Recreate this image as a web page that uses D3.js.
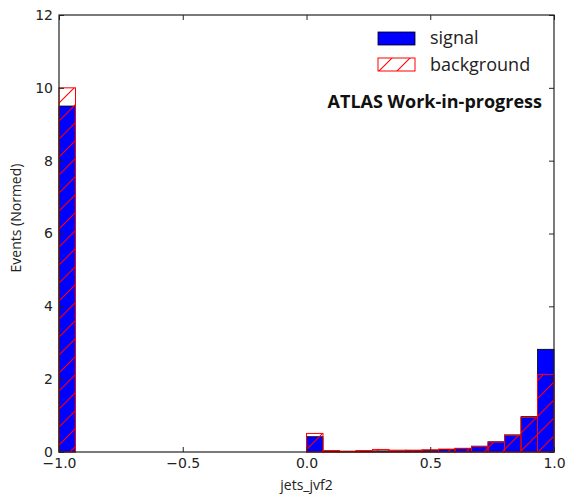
<!DOCTYPE html>
<head>
  <meta charset="utf-8">
  <script src="https://d3js.org/d3.v7.min.js"></script>
  <style>
    body { margin:0; background:#fff; }
    svg { display:block; }
    .tick text { font-family: "DejaVu Sans", sans-serif; font-size: 14px; fill: #222; }
  </style>
</head>

<body>
  <script>
    // histogram: 30 bins of width 1/15 between -1 and 1
    var xDomain = [-1, 1],
        yDomain = [0, 12],
        nBins = 30,
        xTicks = [-1, -0.5, 0, 0.5, 1],
        xTickLabels = ["\u22121.0", "\u22120.5", "0.0", "0.5", "1.0"],
        yTicks = [0, 2, 4, 6, 8, 10, 12];

    var signal = [9.5, 0, 0, 0, 0, 0, 0, 0, 0, 0, 0, 0, 0, 0, 0,
                  0.42, 0.02, 0.02, 0.02, 0.03, 0.03, 0.04, 0.05, 0.07, 0.10, 0.16, 0.28, 0.47, 0.97, 2.82];
    var background = [10.0, 0, 0, 0, 0, 0, 0, 0, 0, 0, 0, 0, 0, 0, 0,
                      0.51, 0.04, 0.02, 0.04, 0.07, 0.05, 0.05, 0.06, 0.08, 0.10, 0.15, 0.27, 0.45, 0.95, 2.13];

    var W = 576, H = 504,
        pl = 59, pr = 554, pt = 15, pb = 452;

    var svg = d3.select("body").append("svg").attr("width", W).attr("height", H),
        defs = svg.append("defs");

    // red hatch '/' like matplotlib
    var hatch = defs.append("pattern")
        .attr("id", "hatch")
        .attr("patternUnits", "userSpaceOnUse")
        .attr("width", 18).attr("height", 18);
    hatch.append("path")
        .attr("d", "M0,18 L18,0 M-4,4 L4,-4 M14,22 L22,14")
        .attr("stroke", "#ff0000").attr("stroke-width", 1.1);

    var x = d3.scaleLinear().domain(xDomain).range([pl, pr]);
    var y = d3.scaleLinear().domain(yDomain).range([pb, pt]);

    var binW = (xDomain[1] - xDomain[0]) / nBins;
    var bins = d3.range(nBins).map(function(i){ return xDomain[0] + i * binW; });

    var g = svg.append("g");

    g.selectAll("rect.sig").data(bins)
      .enter().append("rect")
        .attr("class", "sig")
        .attr("x", function(d){ return x(d); })
        .attr("width", function(d){ return x(d + binW) - x(d); })
        .attr("y", function(d, i){ return y(signal[i]); })
        .attr("height", function(d, i){ return y(0) - y(signal[i]); })
        .attr("fill", "#0000ff")
        .attr("stroke", "#000")
        .attr("stroke-width", 0.8);

    g.selectAll("rect.bkg").data(bins)
      .enter().append("rect")
        .attr("class", "bkg")
        .attr("x", function(d){ return x(d); })
        .attr("width", function(d){ return x(d + binW) - x(d); })
        .attr("y", function(d, i){ return y(background[i]); })
        .attr("height", function(d, i){ return y(0) - y(background[i]); })
        .attr("fill", "url(#hatch)")
        .attr("stroke", "#ff0000")
        .attr("stroke-width", 1);

    // axes, ticks inside on all four sides
    var axB = d3.axisBottom(x).tickValues(xTicks)
        .tickFormat(function(d, i){ return xTickLabels[i]; })
        .tickSizeInner(-5).tickSizeOuter(0).tickPadding(6);
    var axT = d3.axisTop(x).tickValues(xTicks).tickFormat("").tickSizeInner(-5).tickSizeOuter(0);
    var axL = d3.axisLeft(y).tickValues(yTicks).tickSizeInner(-5).tickSizeOuter(0).tickPadding(6);
    var axR = d3.axisRight(y).tickValues(yTicks).tickFormat("").tickSizeInner(-5).tickSizeOuter(0);

    [[axB, "translate(0," + pb + ")"], [axT, "translate(0," + pt + ")"],
     [axL, "translate(" + pl + ",0)"], [axR, "translate(" + pr + ",0)"]].forEach(function(a){
      var s = svg.append("g").attr("transform", a[1]).call(a[0]);
      s.select(".domain").remove();
      s.selectAll(".tick line").attr("stroke", "#222");
    });

    svg.append("rect")
        .attr("x", pl).attr("y", pt)
        .attr("width", pr - pl).attr("height", pb - pt)
        .attr("fill", "none").attr("stroke", "#222").attr("stroke-width", 1.2);

    // axis labels
    svg.append("text")
        .attr("transform", "translate(21,218) rotate(-90)")
        .attr("text-anchor", "middle")
        .style("font-family", "Open Sans").style("font-size", "14px").attr("fill", "#222")
        .text("Events (Normed)");
    svg.append("text")
        .attr("x", (pl + pr) / 2).attr("y", 490)
        .attr("text-anchor", "middle")
        .style("font-family", "Open Sans").style("font-size", "14px").attr("fill", "#222")
        .text("jets_jvf2");

    // legend
    var legend = svg.append("g");
    legend.append("rect").attr("x", 378).attr("y", 32).attr("width", 37).attr("height", 13)
        .attr("fill", "#0000ff").attr("stroke", "#000").attr("stroke-width", 0.8);
    legend.append("rect").attr("x", 378).attr("y", 58).attr("width", 37).attr("height", 13)
        .attr("fill", "url(#hatch)").attr("stroke", "#ff0000").attr("stroke-width", 1);
    legend.append("text").attr("x", 430).attr("y", 44)
        .style("font-family", "Open Sans").style("font-size", "18px").attr("fill", "#222")
        .text("signal");
    legend.append("text").attr("x", 430).attr("y", 71)
        .style("font-family", "Open Sans").style("font-size", "18px").attr("fill", "#222")
        .text("background");

    svg.append("text")
        .attr("x", 542).attr("y", 108).attr("text-anchor", "end")
        .style("font-family", "Open Sans").style("font-size", "18px").style("font-weight", "bold")
        .attr("fill", "#111")
        .text("ATLAS Work-in-progress");
  </script>
</body>
</html>
